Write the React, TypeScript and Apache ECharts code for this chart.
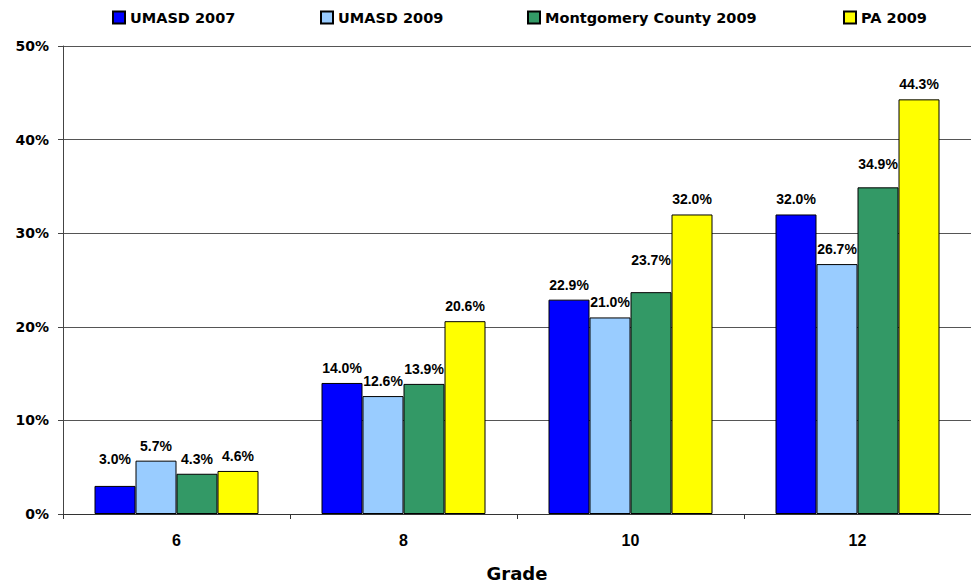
import React, { useEffect, useRef } from "react";
import * as echarts from "echarts";

const grades = ["6", "8", "10", "12"];
const seriesNames = ["UMASD 2007", "UMASD 2009", "Montgomery County 2009", "PA 2009"];
const umasd2007 = [3.0, 14.0, 22.9, 32.0];
const umasd2009 = [5.7, 12.6, 21.0, 26.7];
const montgomery2009 = [4.3, 13.9, 23.7, 34.9];
const pa2009 = [4.6, 20.6, 32.0, 44.3];
const yTicks = [0, 10, 20, 30, 40, 50];

const colors = ["#0000FF", "#99CCFF", "#339966", "#FFFF00"];
const legendLeft = [107, 315, 522, 838];
// extra label lift (px) where the original moved labels to avoid overlap
const labelLift: number[][] = [
  [12, 0, 0, 0],
  [0, 0, 0, 0],
  [0, 0, 17, 0],
  [0, 0, 8, 0],
];

const LABEL_FONT = "'Liberation Sans', Arial, sans-serif";
const WIDE_FONT = "'DejaVu Sans', sans-serif";

export default function App() {
  const ref = useRef<HTMLDivElement>(null);
  useEffect(() => {
    if (!ref.current) return;
    const chart = echarts.init(ref.current, null, { renderer: "svg" });
    const allData = [umasd2007, umasd2009, montgomery2009, pa2009];
    const series = allData.map((vals, si) => ({
      name: seriesNames[si],
      type: "bar" as const,
      barWidth: 41,
      barGap: "0%",
      itemStyle: { color: colors[si], borderColor: "#000", borderWidth: 1 },
      data: vals.map((v, ci) => ({
        value: v,
        label: { offset: [0, -labelLift[ci][si]] },
      })),
      label: {
        show: true,
        position: "top" as const,
        distance: 8,
        formatter: (p: any) => p.value.toFixed(1) + "%",
        fontFamily: LABEL_FONT,
        fontWeight: "bold" as const,
        fontSize: 14,
        color: "#000",
      },
    }));
    const option: any = {
      animation: false,
      backgroundColor: "#fff",
      legend: seriesNames.map((n, i) => ({
        data: [n],
        left: legendLeft[i],
        top: 5,
        itemWidth: 12,
        itemHeight: 12,
        icon: "rect",
        textStyle: {
          fontFamily: WIDE_FONT,
          fontWeight: "bold",
          fontSize: 14.5,
          color: "#000",
        },
      })),
      grid: { left: 63, right: 0, top: 46, height: 472, containLabel: false },
      xAxis: {
        type: "category",
        data: grades,
        name: "Grade",
        nameLocation: "middle",
        nameGap: 50,
        nameTextStyle: {
          fontFamily: WIDE_FONT,
          fontWeight: "bold",
          fontSize: 18,
          color: "#000",
        },
        axisLine: { show: true, lineStyle: { color: "#333", width: 1 } },
        axisTick: { show: true, length: 5, lineStyle: { color: "#333" } },
        axisLabel: {
          margin: 18,
          fontFamily: LABEL_FONT,
          fontWeight: "bold",
          fontSize: 16,
          color: "#000",
        },
      },
      yAxis: {
        type: "value",
        min: yTicks[0],
        max: yTicks[yTicks.length - 1],
        interval: 10,
        axisLine: { show: true, lineStyle: { color: "#444", width: 1 } },
        axisTick: { show: true, length: 5, lineStyle: { color: "#444" } },
        splitLine: { show: true, lineStyle: { color: "#555", width: 1 } },
        axisLabel: {
          margin: 14,
          formatter: "{value}%",
          fontFamily: WIDE_FONT,
          fontWeight: "bold",
          fontSize: 14,
          color: "#000",
        },
      },
      series,
    };
    chart.setOption(option);
    return () => chart.dispose();
  }, []);
  return (
    <div
      ref={ref}
      style={{ position: "absolute", left: 0, top: 0, width: 971, height: 587 }}
    />
  );
}
